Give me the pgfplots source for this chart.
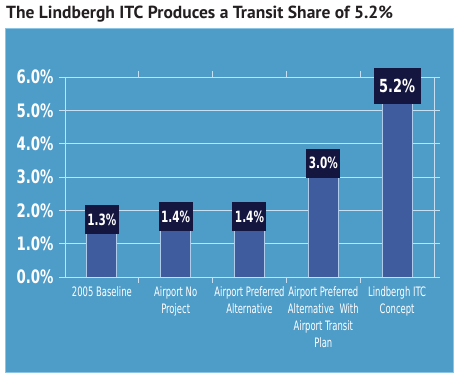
\documentclass[border=0pt]{standalone}
\usepackage{pgfplots}
\pgfplotsset{compat=1.18}
\usepackage{fontspec}
\setmainfont{PT Sans}
\newfontfamily\condfont[FakeStretch=0.8]{DejaVu Sans Condensed}
\newfontfamily\boxfont[FakeStretch=0.75]{DejaVu Sans Condensed}
\newfontfamily\narrowfont[FakeStretch=0.72]{DejaVu Sans Condensed}
\definecolor{panel}{HTML}{4E9CC8}
\definecolor{panelborder}{HTML}{8CC4E4}
\definecolor{barfill}{HTML}{3E5C9E}
\definecolor{barline}{HTML}{B0CCEA}
\definecolor{gridc}{HTML}{C6E0F2}
\definecolor{boxc}{HTML}{15163F}
\definecolor{titlec}{HTML}{231F20}
\begin{document}
\begin{tikzpicture}
\path[use as bounding box] (0pt,0pt) rectangle (459pt,377pt);
\fill[panel,draw=panelborder,line width=0.8pt] (5pt,5pt) rectangle (453pt,349pt);
\node[anchor=west,inner sep=0pt,font=\bfseries\fontsize{17.5}{19}\selectfont,text=titlec] at (6pt,363pt) {The Lindbergh ITC Produces a Transit Share of 5.2\%};
\begin{axis}[
  at={(65pt,100pt)}, anchor=south west,
  scale only axis, width=369pt, height=200pt,
  xmin=-0.5, xmax=4.5, ymin=0, ymax=6,
  axis line style={gridc, line width=0.8pt},
  ytick={0,1,2,3,4,5,6},
  yticklabels={0.0\%,1.0\%,2.0\%,3.0\%,4.0\%,5.0\%,6.0\%},
  yticklabel style={font=\condfont\bfseries\fontsize{18.5}{20}\selectfont, text=white, xshift=-2pt},
  ymajorgrids, grid style={gridc, line width=0.8pt},
  xtick={0.5,1.5,2.5,3.5}, xticklabels={},
  extra x ticks={0,1,2,3,4},
  extra x tick labels={2005 Baseline, Airport No\\Project, Airport Preferred\\Alternative, Airport Preferred\\Alternative\ \ With\\Airport Transit\\Plan, Lindbergh ITC\\Concept},
  extra x tick style={major tick length=0pt, xmajorgrids=false,
    tick label style={font=\narrowfont\fontsize{13}{17}\selectfont, text=white, align=center, yshift=-6pt}},
  tick align=outside, major tick length=6pt,
  tick style={gridc, line width=0.8pt},
  /pgf/number format/assume math mode=true,
]
\addplot[ybar, bar width=30pt, fill=barfill, draw=barline, line width=0.8pt,
  nodes near coords={\pgfmathprintnumber[fixed,fixed zerofill,precision=1]{\pgfplotspointmeta}\%},
  every node near coord/.append style={fill=boxc, text=white, anchor=south, yshift=-1pt,
    font=\boxfont\bfseries\fontsize{15.5}{17}\selectfont, minimum width=34pt, minimum height=29pt, inner sep=2pt},
] coordinates {(0,1.3) (1,1.4) (2,1.4) (3,3.0)};
\addplot[ybar, bar width=30pt, fill=barfill, draw=barline, line width=0.8pt,
  nodes near coords={\pgfmathprintnumber[fixed,fixed zerofill,precision=1]{\pgfplotspointmeta}\%},
  every node near coord/.append style={fill=boxc, text=white, anchor=south, yshift=-1pt,
    font=\condfont\bfseries\fontsize{18}{20}\selectfont, minimum width=47pt, minimum height=36pt, inner sep=2pt},
] coordinates {(4,5.2)};
\end{axis}
\end{tikzpicture}
\end{document}
